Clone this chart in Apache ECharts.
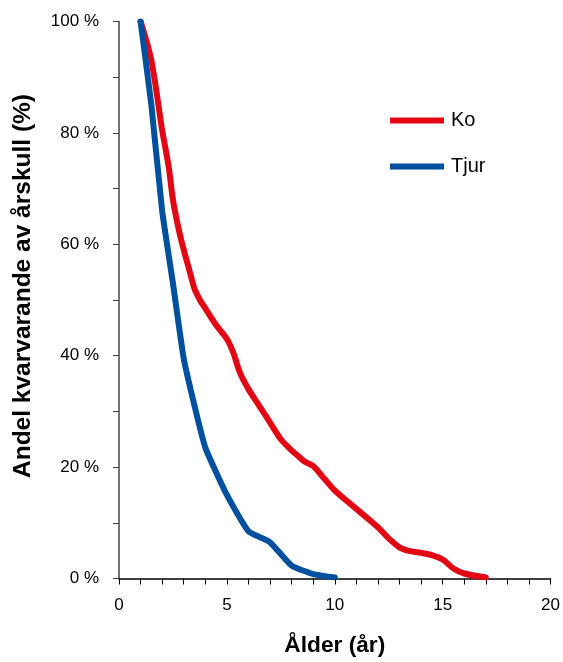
<!DOCTYPE html>
<html><head><meta charset="utf-8">
<script src="https://cdn.jsdelivr.net/npm/echarts@6/dist/echarts.min.js"></script>
<style>html,body{margin:0;padding:0;background:#fff}#c{width:563px;height:662px}</style>
</head><body><div id="c"></div>
<script>
const koAge = [1,1.5,2,2.3,2.5,2.75,3,3.25,3.5,3.75,4,4.5,5,5.3,5.6,6,6.5,7,7.5,8,8.3,8.6,9,9.5,10,11,12,12.5,13,13.5,14,14.5,15,15.5,16,17];
const koVal = [100,93,80.5,74,68,63,59,55.5,52,50,48.5,45.5,43,40.5,37,34,31,28,25,23,22,21,20.2,18,15.8,12.5,9.2,7.2,5.6,4.9,4.6,4.2,3.4,1.8,0.9,0.2];
const tjurAge = [1,1.5,2,2.5,3,3.5,4,5,6,7,8,9,10];
const tjurVal = [100,85,66,53,39.5,31,23.5,15,8.5,6.5,2.3,0.8,0.2];
const xTicks = [0,5,10,15,20];
const yTicks = [0,20,40,60,80,100];
const seriesNames = ['Ko','Tjur'];

const chart = echarts.init(document.getElementById('c'));
const font = 'Liberation Sans, Arial, sans-serif';
chart.setOption({
  animation:false,
  grid:{left:119,right:7,top:21.5,bottom:82.7},
  legend:{
    orient:'vertical', left:385, top:105.5, itemGap:26,
    itemWidth:54, itemHeight:6, icon:'rect',
    textStyle:{fontFamily:font,fontSize:20,color:'#000',padding:[0,0,0,2]},
    data:seriesNames
  },
  xAxis:{
    type:'value', min:0, max:20, interval:1,
    name:'Ålder (år)', nameLocation:'middle', nameGap:55.5,
    nameTextStyle:{fontFamily:font,fontSize:22.7,fontWeight:'bold',color:'#000'},
    axisLine:{lineStyle:{color:'#000',width:1.5}},
    axisTick:{show:true,length:6,lineStyle:{color:'#000',width:1}},
    axisLabel:{fontFamily:font,fontSize:17,color:'#000',margin:18,
      formatter:v=>xTicks.includes(v)?String(v):''},
    splitLine:{show:false}
  },
  yAxis:{
    type:'value', min:0, max:100, interval:10,
    name:'Andel kvarvarande av årskull (%)', nameLocation:'middle', nameGap:83,
    nameTextStyle:{fontFamily:font,fontSize:24.5,fontWeight:'bold',color:'#000',padding:[0,0,0,28]},
    axisLine:{show:true,lineStyle:{color:'#444',width:1.5}},
    axisTick:{show:true,length:6,lineStyle:{color:'#444',width:1}},
    axisLabel:{fontFamily:font,fontSize:17,color:'#000',margin:20,
      formatter:v=>yTicks.includes(v)?v+' %':''},
    splitLine:{show:false}
  },
  series:[
    {name:seriesNames[0],type:'line',smooth:0.3,showSymbol:false,
     lineStyle:{color:'#e30613',width:6,cap:'round'},itemStyle:{color:'#e30613'},
     data:koAge.map((a,i)=>[a,koVal[i]]),z:2},
    {name:seriesNames[1],type:'line',smooth:0.15,showSymbol:false,
     lineStyle:{color:'#0050a0',width:6,cap:'round'},itemStyle:{color:'#0050a0'},
     data:tjurAge.map((a,i)=>[a,tjurVal[i]]),z:3}
  ]
});
</script></body></html>
